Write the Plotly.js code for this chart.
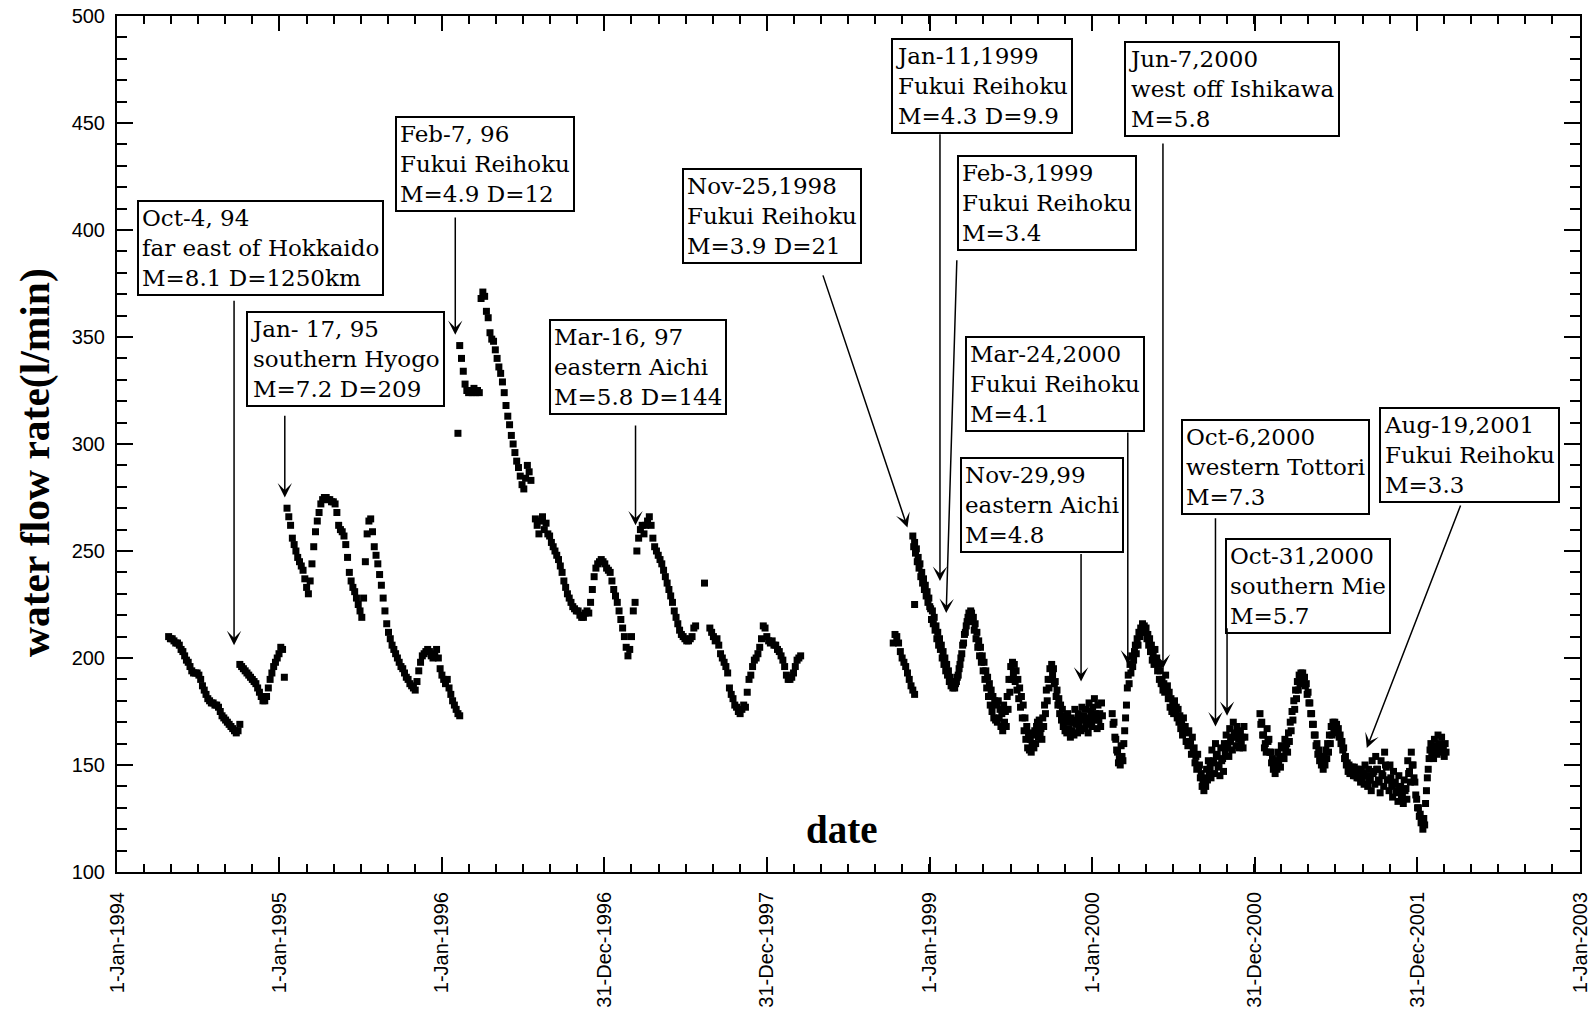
<!DOCTYPE html>
<html>
<head>
<meta charset="utf-8">
<script src="https://cdn.plot.ly/plotly-3.0.1.min.js"></script>
<style>
html,body{margin:0;padding:0;background:#fff;}
#chart{width:1590px;height:1009px;}
</style>
</head>
<body>
<div id="chart"></div>
<script>
// ---------------- DATA (water flow rate, l/min) ----------------
// 1994-1998 segments sampled every 4 days, 1998-2002 segment every 2 days
const segAStart = '1994-04-27', segAStep = 4;
const segA = [210,209,209,208,207,207,206,204,203,201,199,198,196,194,193,193,193,192,190,187,
  185,183,181,180,179,179,178,178,177,175,173,172,171,170,169,168,167,166,165,166,169];

const segBStart = '1994-10-04', segBStep = 4;
const segB = [197,196,195,194,193,192,191,190,189,188,186,184,182,180,180,182,186,190,193,196,
  198,200,202,205,204,191];

const segCStart = '1995-01-18', segCStep = 4;
const segC = [270,266,262,256,253,250,247,245,243,241,
  237,233,230,236,244,252,259,264,268,272,
  274,275,275,274,274,273,273,272,268,262,
  260,259,257,253,247,240,236,233,231,228,
  225,222,219,228,245,258,264,265,259,252,
  248,244,239,234,228,222,216,212,209,206,
  204,202,200,198,196,195,193,191,190,188,
  187,186,185,189,194,198,201,202,203,204,
  203,201,200,202,204,200,195,192,190,188,
  190,186,183,180,178,176,174,173];

const segDStart = '1996-02-06', segDStep = 4;
const segD = [305,346,340,334,328,325,324,325,324,326,
  324,325,324,368,371,369,362,359,352,349,
  348,344,340,336,333,329,324,318,313,309,
  304,300,296,292,289,285,281,279,284,290,
  287,283];

const segEStart = '1996-07-29', segEStep = 4;
const segE = [265,262,258,264,266,260,263,258,257,254,
  252,250,248,246,243,240,236,233,230,228,
  226,224,223,222,222,220,219,219,221,222,
  221,226,232,238,242,244,245,246,245,244,
  242,241,240,236,232,229,226,222,218,214,
  210,205,201,204,210,222,226,250,256,260,
  262,258,262,264,266,262,256,252,250,248,
  246,244,241,238,235,232,229,226,222,219,
  216,213,211,210,209,208,208,209,210,214,
  215,null,null,null,null,235,null,null,214,212,
  210,208,209,206,202,200,198,196,193,186,
  183,181,178,177,175,174,176,178,177,184,
  190,192,196,199,200,202,205,209,215,214,
  210,208,207,208,206,206,204,203,201,199,
  196,192,190,190,191,193,196,199,200,201];

const segF1Start = '1998-10-11', segF1Step = 4;
const segF1 = [207,211,210,207,203,200,198,196,193,190,187,185,183];

const segF2Start = '1998-11-24', segF2Step = 2;
const segF2 = [
  257,252,254,249,251,245,247,242,244,238,240,235,237,232,234,229,231,226,228,224,
  223,218,222,216,219,213,215,209,212,206,209,204,206,200,203,197,200,194,197,192,
  194,189,191,187,189,186,188,186,188,189,191,192,195,197,200,202,206,207,211,212,
  215,217,219,221,220,222,221,217,219,213,216,209,212,205,208,201,205,198,201,194,
  198,190,194,186,191,182,188,178,185,175,182,172,180,171,178,170,180,172,176,168,
  174,166,178,170,175,168,182,176,190,184,196,190,198,193,197,189,194,185,190,181,
  186,177,182,172,178,166,172,162,168,158,165,157,162,156,160,164,158,166,160,168,
  170,163,171,165,167,162,172,168,178,174,185,180,190,186,195,190,197,192,195,188,
  189,182,185,178,181,174,178,171,176,168,173,166,171,165,174,167,170,163,172,166,
  170,164,176,169,171,165,174,168,172,166,177,171,173,167,176,169,171,165,179,172,
  175,168,177,171,181,174,172,167,178,171,174,168,179,173,null,null,null,null,null,null,
  null,null,null,null,174,169,170,163,162,157,156,151,153,150,159,154,152,160,166,172,
  178,186,192,188,197,193,201,196,199,203,206,202,209,206,212,210,214,212,216,213,
  215,212,214,209,211,206,209,203,206,199,202,197,204,198,200,194,197,190,194,188,
  190,185,188,184,192,186,187,181,184,177,181,175,179,174,180,175,177,172,176,170,
  173,167,170,164,172,166,168,161,165,159,166,160,161,155,163,156,158,151,154,148,
  155,149,150,144,146,140,142,138,144,140,148,143,152,146,149,144,157,151,152,146,
  160,154,155,149,150,145,158,152,153,147,160,155,164,158,160,154,167,161,163,157,
  170,164,165,159,168,163,162,158,166,160,163,158,168,163,null,null,null,null,null,null,
  null,null,null,null,null,null,null,null,null,null,174,169,170,164,164,158,160,156,167,161,
  162,156,156,151,153,148,150,146,152,148,156,151,154,149,159,154,158,153,162,157,
  160,156,165,161,170,166,175,171,180,176,185,181,189,185,192,188,193,190,193,189,
  191,187,188,183,184,179,179,174,174,169,169,164,164,159,160,155,157,152,154,150,
  152,148,154,150,157,153,160,156,164,160,168,164,170,166,170,167,169,165,167,163,
  164,160,161,157,158,153,154,150,151,147,150,146,149,146,149,145,149,145,148,144,
  148,144,147,142,148,143,146,141,150,145,145,140,148,143,143,138,152,146,147,141,
  154,148,148,143,142,137,152,146,145,140,156,150,149,143,143,138,150,144,140,135,
  147,141,142,137,138,133,145,139,140,135,137,132,143,138,139,134,152,146,147,142,
  156,150,150,144,142,136,134,130,130,126,127,123,124,120,125,122,132,138,144,148,
  153,157,160,155,157,153,162,157,159,155,164,159,160,156,163,158,158,154,160,156];

const isolatedDates = ['1998-11-28'];
const isolatedValues = [225];

// x-axis tick labels
const xTickDates = ['1994-01-01','1995-01-01','1996-01-01','1996-12-31','1997-12-31',
  '1999-01-01','2000-01-01','2000-12-31','2001-12-31','2003-01-01'];
const xTickLabels = ['1-Jan-1994','1-Jan-1995','1-Jan-1996','31-Dec-1996','31-Dec-1997',
  '1-Jan-1999','1-Jan-2000','31-Dec-2000','31-Dec-2001','1-Jan-2003'];

// earthquake events (box text) and arrow head / tail (date, flow value)
const eventTexts = [
  'Oct-4, 94<br>far east of Hokkaido<br>M=8.1 D=1250km',
  'Jan- 17, 95<br>southern Hyogo<br>M=7.2 D=209',
  'Feb-7, 96<br>Fukui Reihoku<br>M=4.9 D=12',
  'Mar-16, 97<br>eastern Aichi<br>M=5.8 D=144',
  'Nov-25,1998<br>Fukui Reihoku<br>M=3.9 D=21',
  'Jan-11,1999<br>Fukui Reihoku<br>M=4.3 D=9.9',
  'Feb-3,1999<br>Fukui Reihoku<br>M=3.4',
  'Jun-7,2000<br>west off Ishikawa<br>M=5.8',
  'Mar-24,2000<br>Fukui Reihoku<br>M=4.1',
  'Nov-29,99<br>eastern Aichi<br>M=4.8',
  'Oct-6,2000<br>western Tottori<br>M=7.3',
  'Oct-31,2000<br>southern Mie<br>M=5.7',
  'Aug-19,2001<br>Fukui Reihoku<br>M=3.3'
];
const arrowHeadDates = ['1994-09-21','1995-01-13','1996-01-31','1997-03-11','1998-11-12',
  '1999-01-24','1999-02-07','2000-06-08','2000-03-21','1999-12-07','2000-10-04','2000-10-30','2001-09-09'];
const arrowHeadValues = [206,275,351,262,261,236,221,195,197,189,168,173,158];
const arrowTailDates = ['1994-09-21','1995-01-13','1996-01-31','1997-03-11','1998-05-05',
  '1999-01-24','1999-03-03','2000-06-08','2000-03-21','1999-12-07','2000-10-04','2000-10-30','2002-04-09'];
const arrowTailValues = [367.6,313.9,406.5,309.3,379.5,445.4,386.6,441.1,306.1,249.3,266,214.6,272];

// ---------------- LAYOUT HELPERS ----------------
const W = 1590, H = 1009;
const M = {l:117, r:10, t:16, b:137};
const plotW = W - M.l - M.r, plotH = H - M.t - M.b;
const px = X => (X - M.l) / plotW;
const py = Y => (H - M.b - Y) / plotH;

// box top-left corners in page pixels
const boxLeft = [137,246,395,549,682,891,957,1124,965,960,1181,1225,1379];
const boxTop  = [199.5,311,115.6,318.8,168.3,37.5,155,41.3,335.6,457.3,419,538.4,407.1];

function datesFrom(start, n, step) {
  const t0 = Date.parse(start + 'T00:00:00Z');
  const out = [];
  for (let i = 0; i < n; i++) {
    out.push(new Date(t0 + i * step * 86400000).toISOString().slice(0, 10));
  }
  return out;
}

const segments = [
  [segAStart, segAStep, segA], [segBStart, segBStep, segB], [segCStart, segCStep, segC],
  [segDStart, segDStep, segD], [segEStart, segEStep, segE], [segF1Start, segF1Step, segF1],
  [segF2Start, segF2Step, segF2]
];
let xs = [], ys = [];
segments.forEach(([s, st, v]) => {
  xs = xs.concat(datesFrom(s, v.length, st));
  ys = ys.concat(v);
});
xs = xs.concat(isolatedDates);
ys = ys.concat(isolatedValues);

const trace = {
  type: 'scatter', mode: 'markers', x: xs, y: ys,
  marker: {symbol: 'square', size: 7, color: '#000', line: {width: 0}},
  hoverinfo: 'skip', showlegend: false
};

const boxFont = {family: 'DejaVu Serif', size: 23, color: '#000'};
const annotations = [];
eventTexts.forEach((t, i) => {
  annotations.push({
    xref: 'paper', yref: 'paper', x: px(boxLeft[i]), y: py(boxTop[i]),
    xanchor: 'left', yanchor: 'top', align: 'left', showarrow: false,
    text: t, font: boxFont, bgcolor: '#fff', bordercolor: '#000', borderwidth: 2, borderpad: 3
  });
  annotations.push({
    xref: 'x', yref: 'y', axref: 'x', ayref: 'y',
    x: arrowHeadDates[i], y: arrowHeadValues[i],
    ax: arrowTailDates[i], ay: arrowTailValues[i],
    text: '', showarrow: true, arrowhead: 3, arrowsize: 1.6, arrowwidth: 1.5, arrowcolor: '#000'
  });
});
annotations.push({
  xref: 'paper', yref: 'paper', x: px(35), y: py(463), xanchor: 'center', yanchor: 'middle',
  text: 'water flow rate(l/min)', textangle: -90, showarrow: false,
  font: {family: 'Liberation Serif', size: 41.5, weight: 'bold', color: '#000'}
});
annotations.push({
  xref: 'paper', yref: 'paper', x: px(842), y: py(829), xanchor: 'center', yanchor: 'middle',
  text: 'date', showarrow: false,
  font: {family: 'Liberation Serif', size: 39, weight: 'bold', color: '#000'}
});

const tickFont = {family: 'Liberation Sans', size: 20, color: '#000'};
const layout = {
  width: W, height: H, margin: M,
  paper_bgcolor: '#fff', plot_bgcolor: '#fff',
  showlegend: false,
  xaxis: {
    type: 'date', range: ['1994-01-01', '2003-01-01'],
    tickmode: 'array', tickvals: xTickDates, ticktext: xTickLabels, tickangle: -90,
    ticks: 'inside', ticklen: 15, tickwidth: 2, tickcolor: '#000',
    showline: true, linewidth: 2, linecolor: '#000', mirror: 'ticks',
    showgrid: false, zeroline: false, tickfont: tickFont, ticklabelstandoff: 10,
    ticklabeloverflow: 'allow',
    minor: {ticks: 'inside', ticklen: 8, tickwidth: 2, tickcolor: '#000',
      tick0: '1994-01-01', dtick: 365 / 6 * 86400000, showgrid: false}
  },
  yaxis: {
    range: [100, 500], tick0: 0, dtick: 50,
    ticks: 'inside', ticklen: 16, tickwidth: 2, tickcolor: '#000',
    showline: true, linewidth: 2, linecolor: '#000', mirror: 'ticks',
    showgrid: false, zeroline: false, tickfont: tickFont, ticklabelstandoff: 6,
    minor: {ticks: 'inside', ticklen: 10, tickwidth: 2, tickcolor: '#000', dtick: 10, showgrid: false}
  },
  annotations: annotations
};

Plotly.newPlot('chart', [trace], layout, {displayModeBar: false, staticPlot: true});
</script>
</body>
</html>
